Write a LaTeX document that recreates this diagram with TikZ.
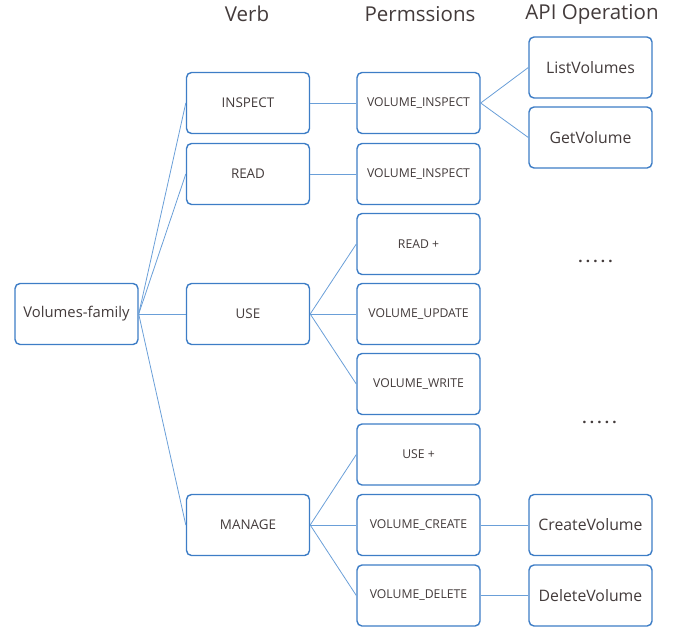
\documentclass[tikz,border=0pt]{standalone}
\usepackage{fontspec}
\setmainfont{Open Sans}
\definecolor{boxblue}{HTML}{3D7DC6}
\definecolor{lineblue}{HTML}{6A9FD8}
\definecolor{txt}{HTML}{433B3B}
\tikzset{
  box/.style={draw=boxblue, line width=1.4pt, rounded corners=5pt, fill=white,
    minimum width=123pt, minimum height=61pt, inner sep=0pt, text=txt, font=\fontsize{13.4}{15}\selectfont},
  smallbox/.style={box, font=\fontsize{12.2}{14}\selectfont},
  bigbox/.style={box, font=\fontsize{15.8}{18}\selectfont},
  fambox/.style={box, font=\fontsize{14.8}{17}\selectfont},
  head/.style={text=txt, font=\fontsize{20.5}{23}\selectfont, inner sep=0pt},
  dots/.style={text=txt, font=\bfseries\fontsize{15}{17}\selectfont, inner sep=0pt},
  link/.style={draw=lineblue, line width=0.8pt}
}
\begin{document}
\begin{tikzpicture}[x=1pt,y=-1pt]
\useasboundingbox (0,0) rectangle (679,629);
% headers
\node[head] (hverb) at (247,14) {Verb};
\node[head] (hperm) at (420,14) {Permssions};
\node[head] (hapi) at (592,14) {API Operation};
% boxes
\node[fambox] (fam) at (76.5,314) {Volumes-family};
\node[box] (inspect) at (248,103) {INSPECT};
\node[box] (read) at (248,174) {READ};
\node[box] (use) at (248,314) {USE};
\node[box] (manage) at (248,525) {MANAGE};
\node[smallbox] (p1) at (418.5,103) {VOLUME\_INSPECT};
\node[smallbox] (p2) at (418.5,174) {VOLUME\_INSPECT};
\node[smallbox] (p3) at (418.5,244) {READ +};
\node[smallbox] (p4) at (418.5,314) {VOLUME\_UPDATE};
\node[smallbox] (p5) at (418.5,384) {VOLUME\_WRITE};
\node[smallbox] (p6) at (418.5,454.5) {USE +};
\node[smallbox] (p7) at (418.5,525) {VOLUME\_CREATE};
\node[smallbox] (p8) at (418.5,595.5) {VOLUME\_DELETE};
\node[bigbox] (list) at (590.5,67.5) {ListVolumes};
\node[bigbox] (get) at (590.5,137.5) {GetVolume};
\node[bigbox] (create) at (590.5,525) {CreateVolume};
\node[bigbox] (delete) at (590.5,595.5) {DeleteVolume};
\node[dots] (d1) at (595.5,261) {.\hspace{3.2pt}.\hspace{3.2pt}.\hspace{3.2pt}.\hspace{3.2pt}.};
\node[dots] (d2) at (599.5,422) {.\hspace{3.2pt}.\hspace{3.2pt}.\hspace{3.2pt}.\hspace{3.2pt}.};
% connectors
\foreach \v in {inspect,read,use,manage} \draw[link] (fam.east) -- (\v.west);
\draw[link] (inspect.east) -- (p1.west);
\draw[link] (read.east) -- (p2.west);
\foreach \p in {p3,p4,p5} \draw[link] (use.east) -- (\p.west);
\foreach \p in {p6,p7,p8} \draw[link] (manage.east) -- (\p.west);
\draw[link] (p1.east) -- (list.west);
\draw[link] (p1.east) -- (get.west);
\draw[link] (p7.east) -- (create.west);
\draw[link] (p8.east) -- (delete.west);
\end{tikzpicture}
\end{document}
